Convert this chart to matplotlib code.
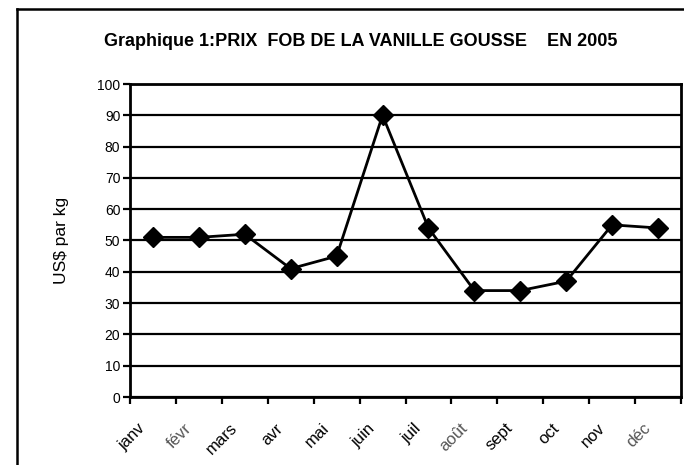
import matplotlib.pyplot as plt
import matplotlib.transforms as mtransforms
from matplotlib.lines import Line2D

# Data
mois = ["janv", "févr", "mars", "avr", "mai", "juin", "juil", "août", "sept", "oct", "nov", "déc"]
prix = [51, 51, 52, 41, 45, 90, 54, 34, 34, 37, 55, 54]

plt.rcParams['font.family'] = ['Liberation Sans', 'DejaVu Sans']

fig = plt.figure(figsize=(6.84, 4.65), dpi=100)
ax = fig.add_axes([130 / 684, 1 - 397 / 465, 551 / 684, 313 / 465])

x = list(range(len(mois)))
ax.plot(x, prix, color="black", linewidth=2, marker="D", markersize=10,
        markerfacecolor="black", markeredgecolor="black", zorder=3)

ax.set_xlim(-0.5, len(mois) - 0.5)
ax.set_ylim(0, 100)
ax.set_yticks(range(0, 101, 10))
ax.grid(axis="y", color="black", linewidth=1.6)
ax.set_axisbelow(True)

# category labels at centres, tick marks at boundaries
ax.set_xticks(x)
ax.set_xticklabels(mois, rotation=45, ha="right", va="top", rotation_mode="anchor", fontsize=12)
ax.set_xticks([i - 0.5 for i in range(len(mois) + 1)], minor=True)
ax.tick_params(axis="x", which="major", length=0, pad=17)
ax.tick_params(axis="x", which="minor", length=5, width=1.6, direction="out")
ax.tick_params(axis="y", length=5, width=1.6, direction="out", labelsize=10, pad=2)
shift = mtransforms.ScaledTranslation(-15 / 100, 0, fig.dpi_scale_trans)
for lbl in ax.get_xticklabels():
    lbl.set_transform(lbl.get_transform() + shift)
    if lbl.get_text() in ("févr", "août", "déc"):
        lbl.set_color("#555555")

for s in ax.spines.values():
    s.set_linewidth(2)
    s.set_color("black")

ax.set_ylabel("US$ par kg", fontsize=12.5, labelpad=20)

fig.text(0.528, 1 - 41 / 465, "Graphique 1:PRIX  FOB DE LA VANILLE GOUSSE    EN 2005",
         ha="center", va="center", fontsize=13, fontweight="bold")

# outer frame (cut off at right and bottom)
fig.add_artist(Line2D([17 / 684, 17 / 684], [0, 1 - 9 / 465], transform=fig.transFigure,
                      color="black", linewidth=1.8))
fig.add_artist(Line2D([17 / 684, 1], [1 - 9 / 465, 1 - 9 / 465], transform=fig.transFigure,
                      color="black", linewidth=1.8))

fig.savefig("out.png", dpi=100)
